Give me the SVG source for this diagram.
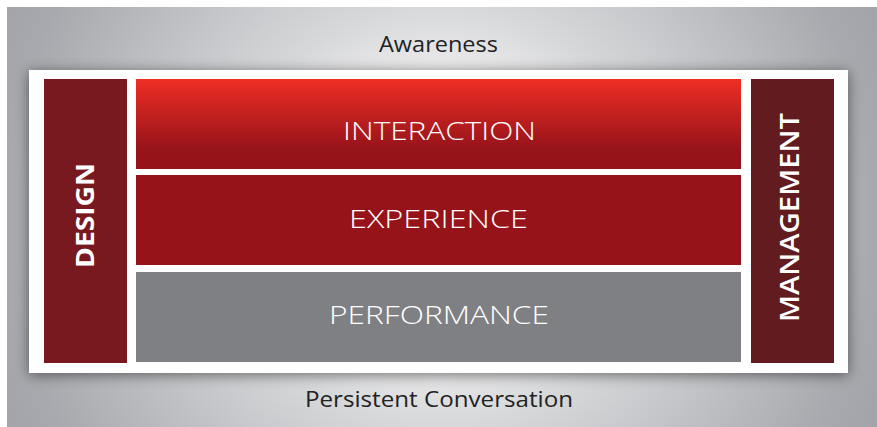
<svg xmlns="http://www.w3.org/2000/svg" width="877" height="427" viewBox="0 0 877 427">
  <defs>
    <radialGradient id="bg" gradientUnits="userSpaceOnUse" cx="440" cy="215" r="500">
      <stop offset="0" stop-color="#F4F4F5"/>
      <stop offset="0.3" stop-color="#E9E9EA"/>
      <stop offset="0.42" stop-color="#D7D8DA"/>
      <stop offset="0.87" stop-color="#A8A9AE"/>
      <stop offset="1" stop-color="#A2A3A8"/>
    </radialGradient>
    <linearGradient id="red" x1="0" y1="0" x2="0" y2="1">
      <stop offset="0" stop-color="#EF2E24"/>
      <stop offset="0.78" stop-color="#96131A"/>
      <stop offset="1" stop-color="#96131A"/>
    </linearGradient>
    <filter id="blur" x="-20%" y="-20%" width="140%" height="140%">
      <feGaussianBlur stdDeviation="7"/>
    </filter>
    <style>
      .lbl { font-family: "Open Sans", "Liberation Sans", sans-serif; fill: #FFFFFF; text-anchor: middle; }
      .center { font-size: 26px; font-weight: 300; }
      .side { font-size: 25px; font-weight: 700; }
      .outer { font-family: "Open Sans", "Liberation Sans", sans-serif; fill: #222222; text-anchor: middle; font-size: 21px; font-weight: 400; }
    </style>
  </defs>

  <rect x="0" y="0" width="877" height="427" fill="#FFFFFF"/>
  <rect x="7" y="7" width="870" height="420" fill="url(#bg)"/>
  <rect x="29" y="72" width="819" height="303" fill="#000000" opacity="0.5" filter="url(#blur)"/>
  <rect x="29" y="70" width="819" height="303" fill="#FFFFFF"/>

  <text class="outer" x="438.5" y="52" textLength="119" lengthAdjust="spacingAndGlyphs">Awareness</text>
  <text class="outer" x="439" y="407" textLength="268" lengthAdjust="spacingAndGlyphs">Persistent Conversation</text>

  <g id="design">
    <rect x="44" y="79" width="83" height="284" fill="#78181F"/>
    <text class="lbl side" transform="translate(94,215.5) rotate(-90)" x="0" y="0" textLength="105" lengthAdjust="spacingAndGlyphs">DESIGN</text>
  </g>

  <g id="interaction">
    <rect x="136" y="79" width="605" height="90" fill="url(#red)"/>
    <text class="lbl center" x="439.5" y="140" textLength="193" lengthAdjust="spacingAndGlyphs">INTERACTION</text>
  </g>

  <g id="experience">
    <rect x="136" y="175" width="605" height="90" fill="#96131A"/>
    <text class="lbl center" x="438.5" y="228" textLength="179" lengthAdjust="spacingAndGlyphs">EXPERIENCE</text>
  </g>

  <g id="performance">
    <rect x="136" y="272" width="605" height="90" fill="#7F8084"/>
    <text class="lbl center" x="439" y="324" textLength="220" lengthAdjust="spacingAndGlyphs">PERFORMANCE</text>
  </g>

  <g id="management">
    <rect x="751" y="79" width="83" height="284" fill="#621B1F"/>
    <text class="lbl side" style="font-size:27px;font-weight:600" transform="translate(799,217.5) rotate(-90)" x="0" y="0" textLength="209" lengthAdjust="spacingAndGlyphs">MANAGEMENT</text>
  </g>

  <g id="connectors"/>
</svg>
